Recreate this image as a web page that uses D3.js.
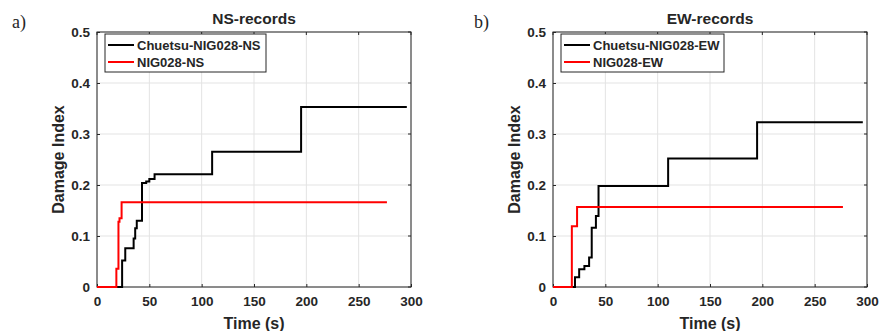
<!DOCTYPE html>
<html>
<head>
<meta charset="utf-8">
<script src="https://cdn.jsdelivr.net/npm/d3@7"></script>
<style>
  body { margin: 0; background: #fff; }
  text { font-family: Arial, "Liberation Sans", sans-serif; font-weight: bold; fill: #262626; }
</style>
</head>
<body>
<div id="chart"></div>
<script>
// damage index step histories
var nsChuetsuTime = [0, 24, 27, 35, 36.5, 38, 43, 47, 50, 55, 110, 195, 296];
var nsChuetsuDI   = [0, 0.052, 0.076, 0.095, 0.115, 0.13, 0.204, 0.207, 0.212, 0.221, 0.265, 0.353, 0.353];
var nsNigTime = [0, 18.5, 20.5, 21.5, 23.5, 277];
var nsNigDI   = [0, 0.036, 0.128, 0.135, 0.166, 0.166];

var ewChuetsuTime = [0, 21, 25, 30, 34.5, 37, 41, 43.5, 110, 195, 296];
var ewChuetsuDI   = [0, 0.019, 0.035, 0.041, 0.058, 0.116, 0.139, 0.198, 0.252, 0.323, 0.323];
var ewNigTime = [0, 18, 23, 277];
var ewNigDI   = [0, 0.119, 0.157, 0.157];

var xTicks = [0, 50, 100, 150, 200, 250, 300];
var yTicks = [0, 0.1, 0.2, 0.3, 0.4, 0.5];

var panels = [
  { tag: "a)", title: "NS-records", left: 97, tagX: 12, legW: 161,
    series: [
      { name: "Chuetsu-NIG028-NS", t: nsChuetsuTime, v: nsChuetsuDI, color: "#000" },
      { name: "NIG028-NS", t: nsNigTime, v: nsNigDI, color: "#ff0000" }
    ] },
  { tag: "b)", title: "EW-records", left: 553, tagX: 474, legW: 163,
    series: [
      { name: "Chuetsu-NIG028-EW", t: ewChuetsuTime, v: ewChuetsuDI, color: "#000" },
      { name: "NIG028-EW", t: ewNigTime, v: ewNigDI, color: "#ff0000" }
    ] }
];

var width = 882, height = 331,
    plotW = 314, plotTop = 32, plotBottom = 287;

var svg = d3.select("#chart").append("svg")
  .attr("width", width)
  .attr("height", height)
  .style("background", "#fff");

panels.forEach(function(p) {
  var x = d3.scaleLinear().domain([0, 300]).range([p.left, p.left + plotW]);
  var y = d3.scaleLinear().domain([0, 0.5]).range([plotBottom, plotTop]);
  var g = svg.append("g");

  // grid
  g.selectAll(".gx").data(xTicks).enter().append("line")
    .attr("x1", function(d){ return x(d); }).attr("x2", function(d){ return x(d); })
    .attr("y1", plotTop).attr("y2", plotBottom)
    .attr("stroke", "#e3e3e3").attr("stroke-width", 1);
  g.selectAll(".gy").data(yTicks).enter().append("line")
    .attr("y1", function(d){ return y(d); }).attr("y2", function(d){ return y(d); })
    .attr("x1", p.left).attr("x2", p.left + plotW)
    .attr("stroke", "#e3e3e3").attr("stroke-width", 1);

  // axes (ticks inward, matlab style)
  var xAxis = g.append("g").attr("transform", "translate(0," + plotBottom + ")")
    .call(d3.axisBottom(x).tickValues(xTicks).tickSize(-3).tickPadding(9).tickFormat(d3.format("d")));
  var yAxis = g.append("g").attr("transform", "translate(" + p.left + ",0)")
    .call(d3.axisLeft(y).tickValues(yTicks).tickSize(-3).tickPadding(7)
      .tickFormat(function(d){ return d === 0 ? "0" : d3.format(".1f")(d); }));
  [xAxis, yAxis].forEach(function(a) {
    a.select(".domain").remove();
    a.selectAll("line").attr("stroke", "#262626");
    a.selectAll("text").style("font-size", "13.5px").attr("fill", "#262626");
  });
  // top / right ticks
  g.selectAll(".tt").data(xTicks).enter().append("line")
    .attr("x1", function(d){ return x(d); }).attr("x2", function(d){ return x(d); })
    .attr("y1", plotTop).attr("y2", plotTop + 3).attr("stroke", "#262626");
  g.selectAll(".tr").data(yTicks).enter().append("line")
    .attr("y1", function(d){ return y(d); }).attr("y2", function(d){ return y(d); })
    .attr("x1", p.left + plotW).attr("x2", p.left + plotW - 3).attr("stroke", "#262626");

  // box
  g.append("rect")
    .attr("x", p.left).attr("y", plotTop).attr("width", plotW).attr("height", plotBottom - plotTop)
    .attr("fill", "none").attr("stroke", "#262626").attr("stroke-width", 1);

  // lines (black first, red on top)
  var line = d3.line()
    .x(function(d){ return x(d[0]); })
    .y(function(d){ return y(d[1]); })
    .curve(d3.curveStepAfter);
  p.series.forEach(function(s) {
    g.append("path")
      .datum(d3.zip(s.t, s.v))
      .attr("d", line)
      .attr("fill", "none")
      .attr("stroke", s.color)
      .attr("stroke-width", 2);
  });

  // legend
  var lx = p.left + 8, ly = 34;
  g.append("rect")
    .attr("x", lx).attr("y", ly).attr("width", p.legW).attr("height", 38)
    .attr("fill", "#fff").attr("stroke", "#262626").attr("stroke-width", 1);
  p.series.forEach(function(s, i) {
    var yy = ly + 11 + i * 17;
    g.append("line")
      .attr("x1", lx + 3).attr("x2", lx + 29)
      .attr("y1", yy).attr("y2", yy)
      .attr("stroke", s.color).attr("stroke-width", 2);
    g.append("text")
      .attr("x", lx + 32).attr("y", yy).attr("dy", "0.35em")
      .style("font-size", "13px")
      .text(s.name);
  });

  // titles and labels
  g.append("text")
    .attr("x", p.left + plotW / 2).attr("y", 19).attr("dy", "0.35em")
    .attr("text-anchor", "middle").style("font-size", "15.5px").attr("fill", "#000")
    .text(p.title);
  g.append("text")
    .attr("x", p.left + plotW / 2).attr("y", 323).attr("dy", "0.35em")
    .attr("text-anchor", "middle").style("font-size", "16px")
    .text("Time (s)");
  g.append("text")
    .attr("transform", "translate(" + (p.left - 39) + "," + ((plotTop + plotBottom) / 2) + ") rotate(-90)")
    .attr("dy", "0.35em")
    .attr("text-anchor", "middle").style("font-size", "16px")
    .text("Damage Index");
  g.append("text")
    .attr("x", p.tagX).attr("y", 28)
    .style("font-family", "'Liberation Serif', 'DejaVu Serif', serif")
    .style("font-weight", "normal").style("font-size", "18px").attr("fill", "#222")
    .text(p.tag);
});
</script>
</body>
</html>
